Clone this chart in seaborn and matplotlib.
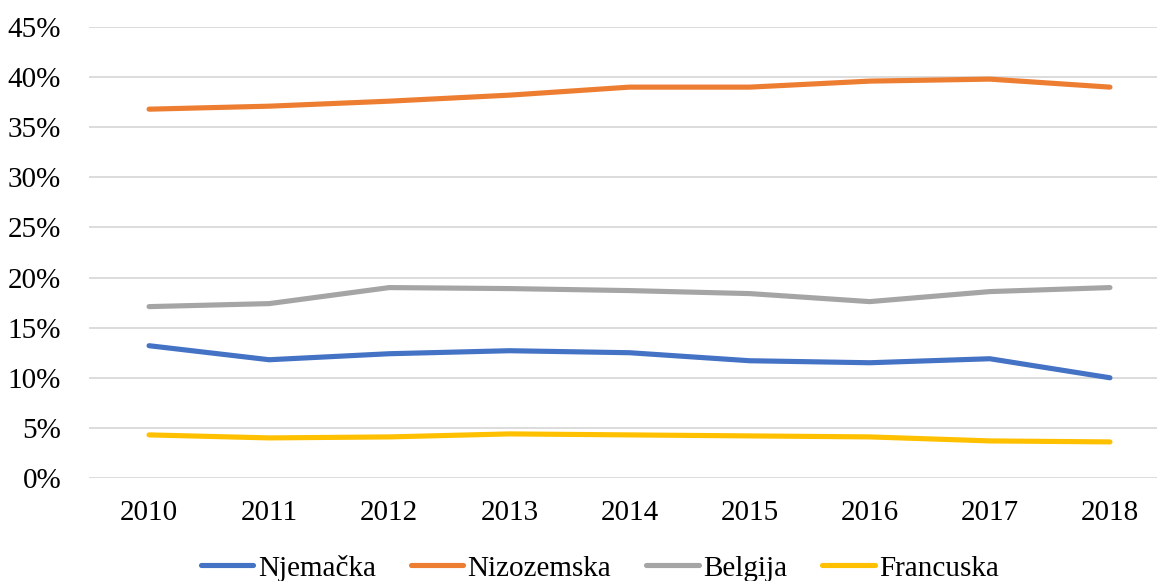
import matplotlib
matplotlib.use("Agg")
import matplotlib.pyplot as plt
import pandas as pd
import seaborn as sns
from matplotlib.ticker import PercentFormatter

# values (percent)
years = ['2010', '2011', '2012', '2013', '2014', '2015', '2016', '2017', '2018']
njemacka = [13.2, 11.8, 12.4, 12.7, 12.5, 11.7, 11.5, 11.9, 10.0]
nizozemska = [36.8, 37.1, 37.6, 38.2, 39.0, 39.0, 39.6, 39.8, 39.0]
belgija = [17.1, 17.4, 19.0, 18.9, 18.7, 18.4, 17.6, 18.6, 19.0]
francuska = [4.3, 4.0, 4.1, 4.4, 4.3, 4.2, 4.1, 3.7, 3.6]

countries = ['Njemačka', 'Nizozemska', 'Belgija', 'Francuska']
colors = ['#4472C4', '#ED7D31', '#A5A5A5', '#FFC000']

df = pd.DataFrame({'year': years, 'Njemačka': njemacka, 'Nizozemska': nizozemska,
                   'Belgija': belgija, 'Francuska': francuska})
long_df = df.melt(id_vars='year', var_name='country', value_name='share')

sns.set_style('white')
plt.rcParams['font.family'] = ['Liberation Serif', 'DejaVu Serif']
plt.rcParams['text.color'] = 'black'
plt.rcParams['xtick.color'] = 'black'
plt.rcParams['ytick.color'] = 'black'

W, H = 1157, 581
fig = plt.figure(figsize=(W / 100, H / 100), dpi=100)
# plot area: x from 89px to beyond right edge (cropped), y from 27px to 478px
ax = fig.add_axes([89 / W, 1 - 478 / H, (1170 - 89) / W, (478 - 27) / H])

sns.lineplot(data=long_df, x='year', y='share', hue='country', hue_order=countries,
             palette=colors, linewidth=3.7, sort=False, ax=ax,
             solid_capstyle='round')

ax.set_xlim(-0.5, len(years) - 0.5)
ax.set_ylim(0, 45)
ax.set_yticks(range(0, 46, 5))
ax.yaxis.set_major_formatter(PercentFormatter(decimals=0))
ax.grid(axis='y', color='#D9D9D9', linewidth=1.3)
ax.grid(axis='x', visible=False)
for s in ax.spines.values():
    s.set_visible(False)
ax.set_xlabel('')
ax.set_ylabel('')
ax.tick_params(axis='y', labelsize=21, labelcolor='black', pad=20, length=0)
ax.tick_params(axis='x', labelsize=21, labelcolor='black', pad=16, length=0)

handles, labels = ax.get_legend_handles_labels()
ax.get_legend().remove()
fig.legend(handles, labels, loc='center', bbox_to_anchor=(600 / W, 1 - 568 / H),
           ncol=4, frameon=False, fontsize=21, handlelength=1.8,
           handletextpad=0.15, columnspacing=1.2, labelcolor='black')

fig.savefig('out.png', dpi=100)
